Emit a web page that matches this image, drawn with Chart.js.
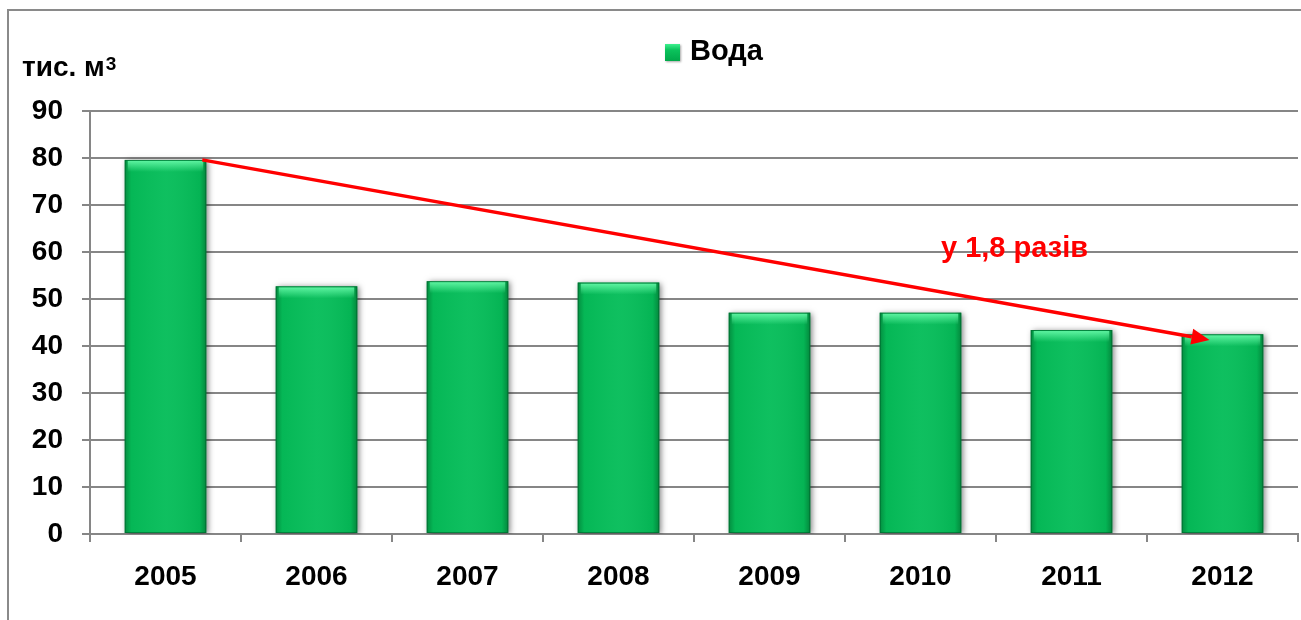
<!DOCTYPE html>
<html>
<head>
<meta charset="utf-8">
<script src="https://cdn.jsdelivr.net/npm/chart.js@4"></script>
<style>
html, body { margin: 0; padding: 0; background: #fff; }
#wrap { position: relative; width: 1301px; height: 620px; overflow: hidden; font-family: "Liberation Sans", Arial, sans-serif; }
#frame { position: absolute; left: 7px; top: 9px; width: 1400px; height: 700px; border: 2px solid #8a8a8a; box-sizing: border-box; }
#chart { position: absolute; left: 0; top: 0; }
#unit { position: absolute; left: 22px; top: 53px; font-size: 28px; line-height: 28px; font-weight: bold; color: #000; white-space: nowrap; }
#unit sup { font-size: 19px; position: relative; top: -3px; vertical-align: top; margin-left: 1px; }
#legend { position: absolute; left: 665px; top: 36px; height: 28px; font-size: 29px; line-height: 28px; font-weight: bold; color: #000; white-space: nowrap; }
#legend .box { display: inline-block; width: 15px; height: 17px; margin-right: 10px; vertical-align: -1px;
  background: linear-gradient(to bottom, #3ef08e 0%, #0bc35c 35%, #00a84a 100%); box-shadow: 1px 1px 2px rgba(0,0,0,0.35); }
</style>
</head>
<body>
<div id="wrap">
  <div id="frame"></div>
  <canvas id="chart" width="1301" height="620"></canvas>
  <div id="unit"><span id="unitText"></span><sup id="unitPow"></sup></div>
  <div id="legend"><span class="box"></span><span id="legendText"></span></div>
</div>
<script>
// дані з рисунка
const years = ['2005', '2006', '2007', '2008', '2009', '2010', '2011', '2012'];
const waterValues = [79.6, 52.7, 53.8, 53.5, 47.1, 47.1, 43.4, 42.5];
const seriesLabel = 'Вода';
const unitLabel = 'тис. м';
const unitPower = '3';
const trendLabel = 'у 1,8 разів';
const trendEndValue = 41.3;   // кінчик стрілки трохи нижче верху останнього стовпця
const yMin = 0, yMax = 90, yStep = 10;

const FONT = '"Liberation Sans", Arial, sans-serif';
const GRID = '#868686';

document.getElementById('unitText').textContent = unitLabel;
document.getElementById('unitPow').textContent = unitPower;
document.getElementById('legendText').textContent = seriesLabel;

// тінь під стовпцями
const barShadow = {
    id: 'barShadow',
    beforeDatasetsDraw(chart) {
        const ctx = chart.ctx;
        ctx.save();
        ctx.shadowColor = 'rgba(0,0,0,0.5)';
        ctx.shadowBlur = 6;
        ctx.shadowOffsetX = 2;
        ctx.shadowOffsetY = 1;
    },
    afterDatasetsDraw(chart) {
        chart.ctx.restore();
    }
};

// об'ємний вигляд стовпців + стрілка тренду
const barGloss = {
    id: 'barGloss',
    afterDatasetsDraw(chart) {
        const ctx = chart.ctx;
        const meta = chart.getDatasetMeta(0);
        meta.data.forEach(bar => {
            const left = bar.x - bar.width / 2, right = bar.x + bar.width / 2;
            const top = bar.y, bottom = bar.base;

            let g = ctx.createLinearGradient(left, 0, right, 0);
            g.addColorStop(0, 'rgba(0,70,25,0.4)');
            g.addColorStop(0.08, 'rgba(0,70,25,0.05)');
            g.addColorStop(0.5, 'rgba(255,255,255,0.04)');
            g.addColorStop(0.92, 'rgba(0,70,25,0.08)');
            g.addColorStop(1, 'rgba(0,70,25,0.45)');
            ctx.fillStyle = g;
            ctx.fillRect(left, top, right - left, bottom - top);

            let h = ctx.createLinearGradient(0, top, 0, top + 12);
            h.addColorStop(0, 'rgba(110,255,175,0.9)');
            h.addColorStop(1, 'rgba(110,255,175,0)');
            ctx.fillStyle = h;
            ctx.fillRect(left + 3, top + 1, right - left - 6, 12);

            ctx.strokeStyle = 'rgba(0,90,40,0.55)';
            ctx.lineWidth = 1;
            ctx.strokeRect(left + 0.5, top + 0.5, right - left - 1, bottom - top - 1);
        });

        // стрілка від першого до останнього стовпця
        const yScale = chart.scales.y;
        const first = meta.data[0], last = meta.data[meta.data.length - 1];
        const x0 = first.x + first.width / 2 - 4, y0 = yScale.getPixelForValue(waterValues[0]);
        const x1 = last.x - 13, y1 = yScale.getPixelForValue(trendEndValue);
        const ang = Math.atan2(y1 - y0, x1 - x0);
        const headLen = 18, headW = 8;
        const bx = x1 - headLen * Math.cos(ang), by = y1 - headLen * Math.sin(ang);

        ctx.save();
        ctx.strokeStyle = '#ff0000';
        ctx.fillStyle = '#ff0000';
        ctx.lineWidth = 3.5;
        ctx.beginPath();
        ctx.moveTo(x0, y0);
        ctx.lineTo(bx, by);
        ctx.stroke();
        ctx.beginPath();
        ctx.moveTo(x1, y1);
        ctx.lineTo(bx + headW * Math.sin(ang), by - headW * Math.cos(ang));
        ctx.lineTo(bx - headW * Math.sin(ang), by + headW * Math.cos(ang));
        ctx.closePath();
        ctx.fill();

        ctx.font = 'bold 29px ' + FONT;
        ctx.textAlign = 'left';
        ctx.textBaseline = 'alphabetic';
        ctx.fillText(trendLabel, 941, 257);
        ctx.restore();
    }
};

new Chart(document.getElementById('chart'), {
    type: 'bar',
    data: {
        labels: years,
        datasets: [{
            label: seriesLabel,
            data: waterValues,
            backgroundColor: '#05bd59',
            borderWidth: 0,
            categoryPercentage: 1,
            barPercentage: 0.54
        }]
    },
    options: {
        responsive: false,
        animation: false,
        devicePixelRatio: 1,
        layout: { padding: { top: 111, left: 0, right: 3, bottom: 0 } },
        plugins: {
            legend: { display: false },
            tooltip: { enabled: false }
        },
        scales: {
            x: {
                grid: { offset: true, drawOnChartArea: false, drawTicks: true, tickLength: 8, color: GRID, lineWidth: 2 },
                border: { display: true, color: GRID, width: 2 },
                ticks: { color: '#000', padding: 18, font: { family: FONT, size: 28, weight: 'bold' }, maxRotation: 0 },
                afterFit(scale) { scale.height = 86; }
            },
            y: {
                min: yMin,
                max: yMax,
                ticks: { stepSize: yStep, color: '#000', padding: 19, font: { family: FONT, size: 28, weight: 'bold' } },
                grid: { color: GRID, lineWidth: 2, tickLength: 8 },
                border: { display: true, color: GRID, width: 2 },
                afterFit(scale) { scale.width = 90; }
            }
        }
    },
    plugins: [barShadow, barGloss]
});
</script>
</body>
</html>
